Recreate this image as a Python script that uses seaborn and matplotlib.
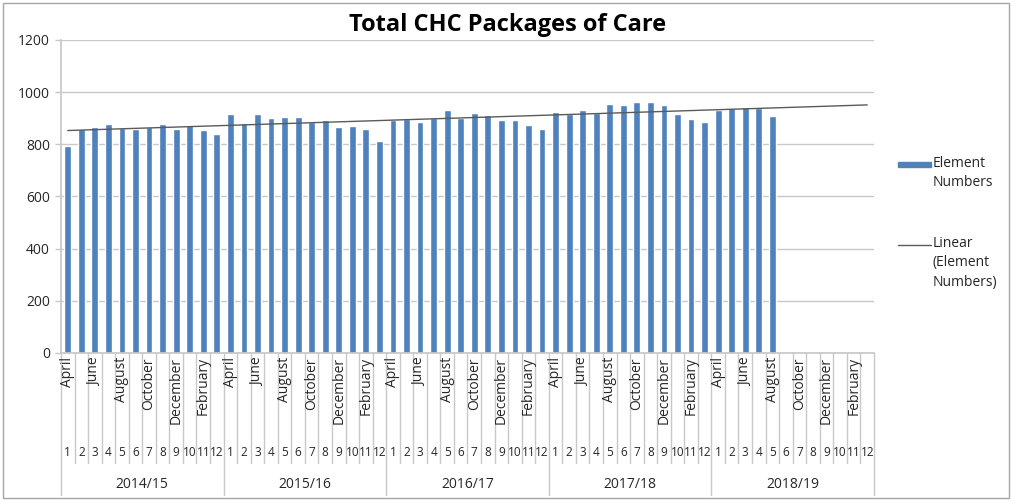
import numpy as np
import pandas as pd
import matplotlib
matplotlib.use("Agg")
import matplotlib.pyplot as plt
import matplotlib.transforms as mtransforms
from matplotlib.patches import Rectangle
from matplotlib.lines import Line2D
import seaborn as sns

# ---- data ----
years = ["2014/15", "2015/16", "2016/17", "2017/18", "2018/19"]
months = ["April", "May", "June", "July", "August", "September",
          "October", "November", "December", "January", "February", "March"]
month_numbers = [str(i) for i in range(1, 13)]
packages_2014_15 = [794, 858, 865, 878, 863, 858, 865, 878, 858, 873, 855, 838]
packages_2015_16 = [915, 881, 915, 900, 903, 906, 887, 893, 868, 870, 860, 812]
packages_2016_17 = [893, 896, 886, 900, 931, 902, 920, 914, 894, 892, 874, 859]
packages_2017_18 = [925, 917, 931, 921, 955, 951, 964, 964, 952, 917, 896, 886]
packages_2018_19 = [933, 940, 944, 939, 910]
y_ticks = [0, 200, 400, 600, 800, 1000, 1200]

series = [packages_2014_15, packages_2015_16, packages_2016_17,
          packages_2017_18, packages_2018_19]

rows = []
for yr, vals in zip(years, series):
    for m in range(12):
        rows.append({"slot": f"{yr}-{m + 1}",
                     "value": vals[m] if m < len(vals) else np.nan})
df = pd.DataFrame(rows)
order = list(df["slot"])
n_slots = len(order)

sns.set_theme(style="white")
plt.rcParams["font.family"] = ["Open Sans", "DejaVu Sans"]
TEXT = "#262626"
GRID = "#c8c8c8"
BAR = "#4F81BD"
FS = 10

fig = plt.figure(figsize=(10.12, 5.01), dpi=100)
ax = fig.add_axes([61 / 1012, 1 - 353 / 501, (874 - 61) / 1012, (353 - 40) / 501])

sns.barplot(data=df.dropna(), x="slot", y="value", order=order,
            color=BAR, saturation=1, width=0.5, ax=ax)

# linear trend fitted to the available months, extended over the full axis
xs = np.arange(n_slots)
valid = df["value"].notna().to_numpy()
coef = np.polyfit(xs[valid], df["value"].to_numpy()[valid], 1)
ax.plot(xs, np.polyval(coef, xs), color="#5a5a5a", lw=1.0, zorder=3)

ax.set_xlim(-0.5, n_slots - 0.5)
ax.set_ylim(0, 1200)
ax.set_yticks(y_ticks)
ax.set_yticklabels([str(t) for t in y_ticks], fontsize=FS, color=TEXT)
ax.yaxis.grid(True, color=GRID, lw=1)
ax.set_axisbelow(True)
ax.tick_params(axis="y", length=4, width=1, color=GRID, pad=4, left=True)
ax.set_xticks([])
ax.set_xlabel("")
ax.set_ylabel("")
for s in ["top", "right"]:
    ax.spines[s].set_visible(False)
ax.spines["left"].set_color(GRID)
ax.spines["bottom"].set_color(GRID)

# multi-level category axis below the plot
trans = mtransforms.blended_transform_factory(ax.transData, ax.transAxes)
ax_h = 353 - 40
def frac(py):
    return (353 - py) / ax_h

for k in range(n_slots + 1):
    bottom = 495 if k % 12 == 0 else 463
    ax.plot([k - 0.5, k - 0.5], [0, frac(bottom)], transform=trans,
            color=GRID, lw=1, clip_on=False)

for i, slot in enumerate(order):
    m = i % 12
    if m % 2 == 0:
        ax.text(i, frac(357), months[m], transform=trans, rotation=90,
                ha="center", va="top", fontsize=FS, color=TEXT)
    ax.text(i, frac(453), month_numbers[m], transform=trans,
            ha="center", va="center", fontsize=8.5, color=TEXT)

for j, yr in enumerate(years):
    ax.text(j * 12 + 5.5, frac(485), yr, transform=trans,
            ha="center", va="center", fontsize=FS, color=TEXT)

# title
fig.text(508 / 1012, 1 - 25 / 501, "Total CHC Packages of Care",
         ha="center", va="center", fontsize=17, fontweight="bold", color="#000000")

# legend
def fx(px):
    return px / 1012
def fy(py):
    return 1 - py / 501

fig.add_artist(Rectangle((fx(898), fy(167)), fx(931) - fx(898), fy(162) - fy(167),
                         transform=fig.transFigure, color=BAR))
fig.text(fx(933), fy(156), "Element\nNumbers", ha="left", va="top",
         fontsize=FS, color=TEXT, linespacing=1.4,
         transform=fig.transFigure)
fig.add_artist(Line2D([fx(898), fx(931)], [fy(245), fy(245)],
                      transform=fig.transFigure, color="#5a5a5a", lw=1.0))
fig.text(fx(933), fy(236), "Linear\n(Element\nNumbers)", ha="left", va="top",
         fontsize=FS, color=TEXT, linespacing=1.4,
         transform=fig.transFigure)

# chart border
fig.add_artist(Rectangle((fx(3), fy(498)), fx(1009) - fx(3), fy(3) - fy(498),
                         transform=fig.transFigure, fill=False,
                         edgecolor="#a6a6a6", lw=1))

fig.savefig("out.png", dpi=100)
